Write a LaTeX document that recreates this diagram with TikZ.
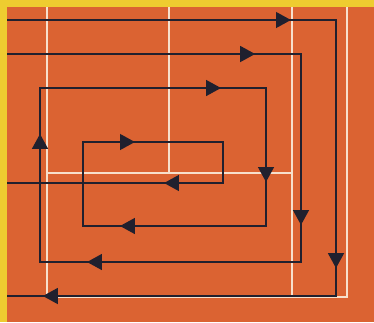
\documentclass[tikz,border=0pt]{standalone}
\usepackage{tikz}
\usepackage{xcolor}
\usetikzlibrary{arrows.meta, decorations.markings}
\definecolor{courtorange}{RGB}{219,99,50}
\definecolor{frameyellow}{RGB}{238,204,48}
\definecolor{chalk}{RGB}{247,224,204}
\definecolor{runink}{RGB}{32,32,46}
\tikzset{
	courtline/.style={draw=chalk, line width=1.4pt},
	route/.style={draw=runink, line width=1.1pt, line join=miter},
	% arrow head part way along one leg of a route
	headat/.style={runink, line width=1.1pt, postaction={decorate},
		decoration={markings, mark=at position #1 with {\arrow{Triangle[length=8.5pt, width=9pt]}}}},
}
\begin{document}
\begin{tikzpicture}[x=0.02cm, y=-0.02cm]
	\useasboundingbox (0,0) rectangle (374,322);
	\fill[frameyellow] (0,0) rectangle (374,322);
	\fill[courtorange] (7,7) rectangle (374,322);
	% court lines
	\draw[courtline] (47,7) -- (47,297) -- (347,297) -- (347,7);
	\draw[courtline] (292,7) -- (292,297);
	\draw[courtline] (169,7) -- (169,173);
	\draw[courtline] (47,173) -- (292,173);
	% outer run
	\coordinate (a0) at (7,20);
	\coordinate (a1) at (336,20);
	\coordinate (a2) at (336,296);
	\coordinate (a3) at (7,296);
	% inner spiral
	\coordinate (b0) at (7,54);
	\coordinate (b1) at (301,54);
	\coordinate (b2) at (301,262);
	\coordinate (b3) at (40,262);
	\coordinate (b4) at (40,88);
	\coordinate (b5) at (266,88);
	\coordinate (b6) at (266,226);
	\coordinate (b7) at (83,226);
	\coordinate (b8) at (83,142);
	\coordinate (b9) at (223,142);
	\coordinate (b10) at (223,183);
	\coordinate (b11) at (7,183);
	\draw[route] (a0) -- (a1) -- (a2) -- (a3);
	\draw[route] (b0) -- (b1) -- (b2) -- (b3) -- (b4) -- (b5) -- (b6)
		-- (b7) -- (b8) -- (b9) -- (b10) -- (b11);
	\path[headat=.863] (a0) -- (a1);
	\path[headat=.899] (a1) -- (a2);
	\path[headat=.891] (a2) -- (a3);
	\path[headat=.844] (b0) -- (b1);
	\path[headat=.822] (b1) -- (b2);
	\path[headat=.820] (b2) -- (b3);
	\path[headat=.736] (b3) -- (b4);
	\path[headat=.801] (b4) -- (b5);
	\path[headat=.681] (b5) -- (b6);
	\path[headat=.798] (b6) -- (b7);
	\path[headat=.371] (b8) -- (b9);
	\path[headat=.273] (b10) -- (b11);
\end{tikzpicture}
\end{document}
